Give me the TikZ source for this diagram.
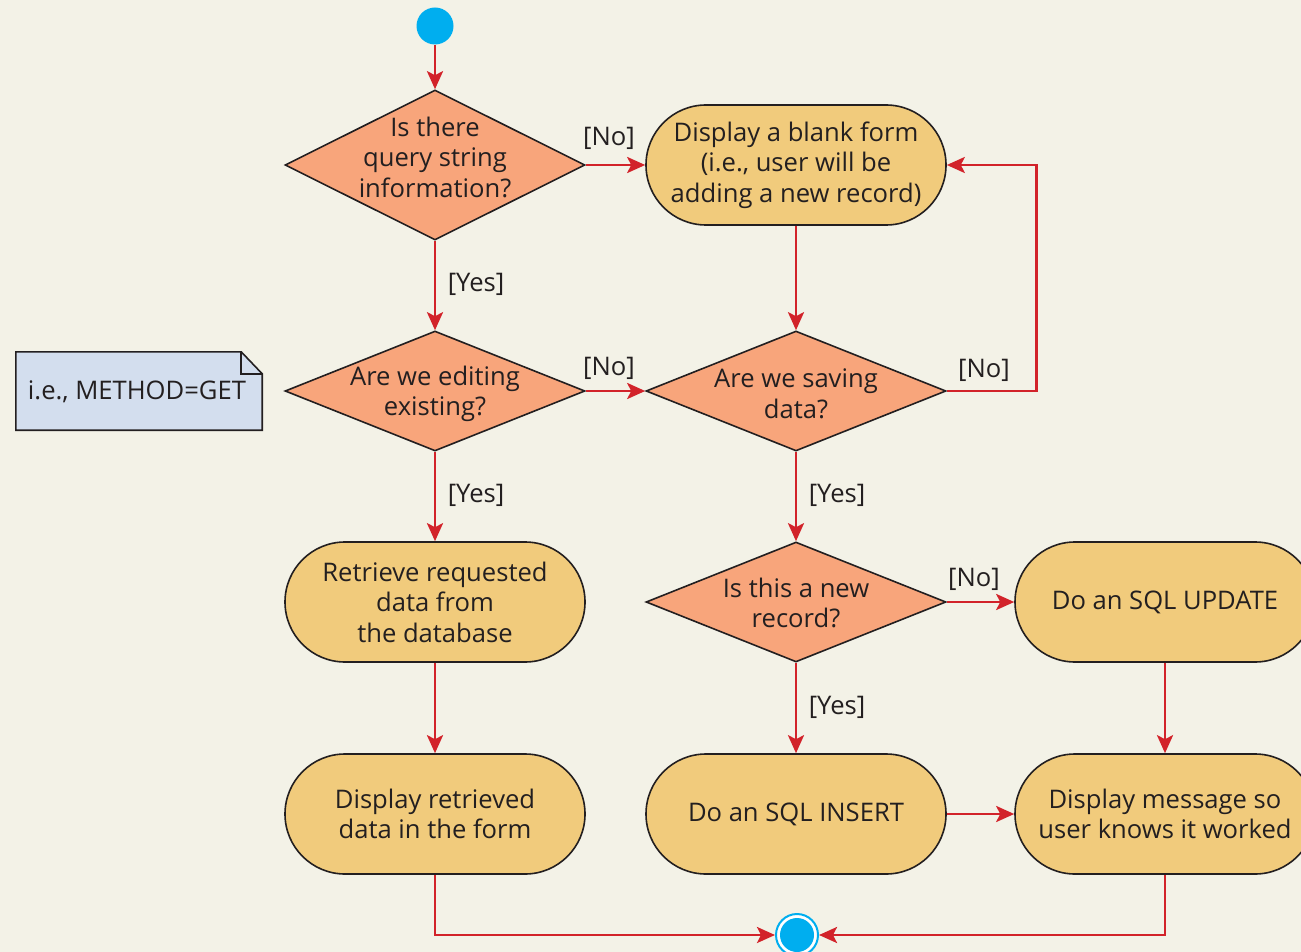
\documentclass[tikz,border=0pt]{standalone}
\usepackage{fontspec}
\setmainfont{Open Sans}
\usetikzlibrary{shapes.geometric,shapes.misc,arrows.meta}
\definecolor{bg}{HTML}{F3F2E7}
\definecolor{flowred}{HTML}{D2232A}
\definecolor{decfill}{HTML}{F8A57B}
\definecolor{actfill}{HTML}{F1CB7C}
\definecolor{notefill}{HTML}{D3DEEE}
\definecolor{inkline}{HTML}{231F20}
\definecolor{dotblue}{HTML}{00AEEF}
\begin{document}
\begin{tikzpicture}[x=1pt,y=-1pt,
  every node/.style={font=\fontsize{25.6}{30.5}\selectfont, text=inkline},
  act/.style={rounded rectangle, draw=inkline, line width=1.6pt, fill=actfill,
    minimum width=300pt, minimum height=120pt, align=center, inner sep=0pt},
  dec/.style={diamond, draw=inkline, line width=1.6pt, fill=decfill,
    minimum width=300pt, minimum height=#1, inner sep=0pt},
  dec/.default=120pt,
  dectext/.style={align=center, inner sep=0pt},
  lbl/.style={inner sep=0pt},
  flow/.style={draw=flowred, line width=2.8pt,
    -{Stealth[length=18pt,width=16pt,inset=4pt]}},
]
% canvas
\fill[bg] (0,0) rectangle (1301,952);
\clip (0,0) rectangle (1301,952);
\useasboundingbox (0,0) rectangle (1301,952);

% start and end
\node[circle, fill=dotblue, minimum size=37pt, inner sep=0pt] (start) at (435,26) {};
\node[circle, fill=white, draw=dotblue, line width=2pt, minimum size=42pt, inner sep=0pt] (end) at (797,935) {};
\node[circle, fill=dotblue, minimum size=34pt, inner sep=0pt] (endin) at (end) {};

% decisions
\node[dec=150pt] (d1) at (435,165) {};
\node[dectext] (d1t) at (435,157) {Is there\\query string\\information?};
\node[dec] (d2) at (435,391) {};
\node[dectext] (d2t) at (435,394) {Are we editing\\existing?};
\node[dec] (d3) at (796,391) {};
\node[dectext] (d3t) at (796,394) {Are we saving\\data?};
\node[dec] (d4) at (796,602) {};
\node[dectext] (d4t) at (796,603) {Is this a new\\record?};

% actions
\node[act] (blank) at (796,165) {Display a blank form\\(i.e., user will be\\adding a new record)};
\node[act] (ret) at (435,602) {Retrieve requested\\data from\\the database};
\node[act] (upd) at (1165,602) {Do an SQL UPDATE};
\node[act] (show) at (435,814) {Display retrieved\\data in the form};
\node[act] (ins) at (796,814) {Do an SQL INSERT};
\node[act] (msg) at (1165,814) {Display message so\\user knows it worked};

% note
\node[minimum width=246pt, minimum height=78pt, inner sep=0pt] (note) at (139,391) {};
\filldraw[fill=notefill, draw=inkline, line width=1.6pt, line join=miter]
  (note.north west) -- ([xshift=-21pt]note.north east) -- ([yshift=-22pt]note.north east)
  -- (note.south east) -- (note.south west) -- cycle;
\draw[inkline, line width=1.6pt]
  ([xshift=-21pt]note.north east) -- ([xshift=-21pt,yshift=-22pt]note.north east)
  -- ([yshift=-22pt]note.north east);
\node (notet) at (137,392) {i.e., METHOD=GET};

% connectors
\draw[flow] (start) -- (d1.north);
\draw[flow] (d1.east) -- (blank.west);
\draw[flow] (d1.south) -- (d2.north);
\draw[flow] (blank.south) -- (d3.north);
\draw[flow] (d2.east) -- (d3.west);
\draw[flow] (d3.east) -- ++(90,0) |- (blank.east);
\draw[flow] (d2.south) -- (ret.north);
\draw[flow] (d3.south) -- (d4.north);
\draw[flow] (d4.east) -- (upd.west);
\draw[flow] (d4.south) -- (ins.north);
\draw[flow] (ret.south) -- (show.north);
\draw[flow] (upd.south) -- (msg.north);
\draw[flow] (ins.east) -- (msg.west);
\draw[flow] (show.south) |- (end.west);
\draw[flow] (msg.south) |- (end.east);

% guard labels
\node[lbl] (l1) at (609,138) {[No]};
\node[lbl] (l2) at (476,284) {[Yes]};
\node[lbl] (l3) at (609,368) {[No]};
\node[lbl] (l4) at (984,370) {[No]};
\node[lbl] (l5) at (476,495) {[Yes]};
\node[lbl] (l6) at (837,495) {[Yes]};
\node[lbl] (l7) at (974,579) {[No]};
\node[lbl] (l8) at (837,707) {[Yes]};
\end{tikzpicture}
\end{document}
